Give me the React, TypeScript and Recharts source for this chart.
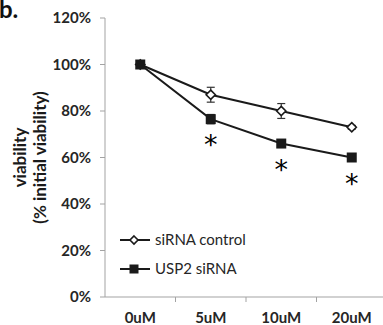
import { LineChart, Line, XAxis, YAxis, ErrorBar, LabelList } from 'recharts'

const doses = ['0uM', '5uM', '10uM', '20uM']
const controlViability = [100, 87, 80, 73]
const controlError = [0, 3.2, 3.2, 0.8]
const usp2Viability = [100, 76.5, 66, 60]
const usp2Error = [0, 2, 0.8, 0.8]
const significance = ['', '*', '*', '*']
const yTicks = [0, 20, 40, 60, 80, 100, 120]

const data = doses.map((d, i) => ({
  dose: d,
  control: controlViability[i],
  controlErr: controlError[i],
  usp2: usp2Viability[i],
  usp2Err: usp2Error[i],
  sig: significance[i],
}))

const W = 387
const H = 325
const Y_AXIS_W = 105
const BAND = (W - Y_AXIS_W) / doses.length
const INK = '#1a1a1a'
const AXIS = '#a3a3a3'

const Diamond = ({ cx, cy, r = 4.6 }: any) => (
  <path
    d={`M${cx},${cy - r}L${cx + r},${cy}L${cx},${cy + r}L${cx - r},${cy}Z`}
    fill="#fff" stroke={INK} strokeWidth={1.6}
  />
)

const Square = ({ cx, cy, s = 10 }: any) => (
  <rect x={cx - s / 2} y={cy - s / 2} width={s} height={s} fill={INK} />
)

function DoseTick({ x, y, payload, index }: any) {
  return (
    <g>
      {index < doses.length - 1 && (
        <line x1={x + BAND / 2} x2={x + BAND / 2} y1={y} y2={y + 5} stroke={AXIS} />
      )}
      <text x={x} y={y + 26} textAnchor="middle" fontSize={15} fontWeight={700} fill="#262626">
        {payload.value}
      </text>
    </g>
  )
}

function YTitle({ viewBox }: any) {
  const cy = viewBox.y + viewBox.height / 2
  return (
    <g fontSize={17} fontWeight={700} fill="#1a1a1a" textAnchor="middle">
      <text x={26} y={cy} transform={`rotate(-90 26 ${cy})`}>viability</text>
      <text x={46} y={cy} transform={`rotate(-90 46 ${cy})`}>(% initial viability)</text>
    </g>
  )
}

// significance marker under the USP2 point
function Star({ x, y, value }: any) {
  if (!value) return null
  return (
    <text x={x} y={y + 35} textAnchor="middle" fontSize={27} fontFamily="DejaVu Sans" fill="#000">
      {value}
    </text>
  )
}

export default function App() {
  return (
    <div style={{ position: 'absolute', left: 0, top: 0, width: 383, height: H, overflow: 'hidden', fontFamily: 'Lato, sans-serif', background: '#fff' }}>
      <LineChart width={W} height={H} data={data} margin={{ top: 18, right: 0, left: 0, bottom: 0 }}>
        <text x={-1} y={18} fontSize={24} fontWeight={700} fill="#111">b.</text>
        <XAxis
          dataKey="dose" scale="band" height={28}
          axisLine={{ stroke: AXIS }} tickLine={false} tickSize={0} tickMargin={0}
          tick={<DoseTick />} interval={0}
        />
        <YAxis
          width={Y_AXIS_W} domain={[0, 120]} ticks={yTicks} interval={0}
          tickFormatter={(v: number) => `${v}%`}
          axisLine={{ stroke: AXIS }} tickLine={{ stroke: AXIS }} tickSize={5} tickMargin={9}
          tick={{ fontSize: 15, fontWeight: 700, fill: '#262626' }}
          label={<YTitle />}
        />
        <Line
          dataKey="control" type="linear" stroke={INK} strokeWidth={2}
          dot={(p: any) => <Diamond key={`c${p.index}`} cx={p.cx} cy={p.cy} />}
          activeDot={false} isAnimationActive={false}
        >
          <ErrorBar dataKey="controlErr" width={4} stroke="#333" strokeWidth={1.2} direction="y" />
        </Line>
        <Line
          dataKey="usp2" type="linear" stroke={INK} strokeWidth={2}
          dot={(p: any) => <Square key={`u${p.index}`} cx={p.cx} cy={p.cy} />}
          activeDot={false} isAnimationActive={false}
        >
          <ErrorBar dataKey="usp2Err" width={4} stroke="#333" strokeWidth={1.2} direction="y" />
          <LabelList dataKey="sig" content={<Star />} />
        </Line>
      </LineChart>
      <div style={{ position: 'absolute', left: 119, top: 225, fontSize: 15, color: '#262626', lineHeight: '29px' }}>
        <div style={{ display: 'flex', alignItems: 'center' }}>
          <svg width={32} height={14}>
            <line x1={1} x2={31} y1={7} y2={7} stroke={INK} strokeWidth={2} />
            <Diamond cx={15} cy={7} r={4} />
          </svg>
          <span style={{ marginLeft: 4 }}>siRNA control</span>
        </div>
        <div style={{ display: 'flex', alignItems: 'center' }}>
          <svg width={32} height={14}>
            <line x1={1} x2={31} y1={7} y2={7} stroke={INK} strokeWidth={2} />
            <Square cx={15} cy={7} s={9} />
          </svg>
          <span style={{ marginLeft: 4 }}>USP2 siRNA</span>
        </div>
      </div>
    </div>
  )
}
